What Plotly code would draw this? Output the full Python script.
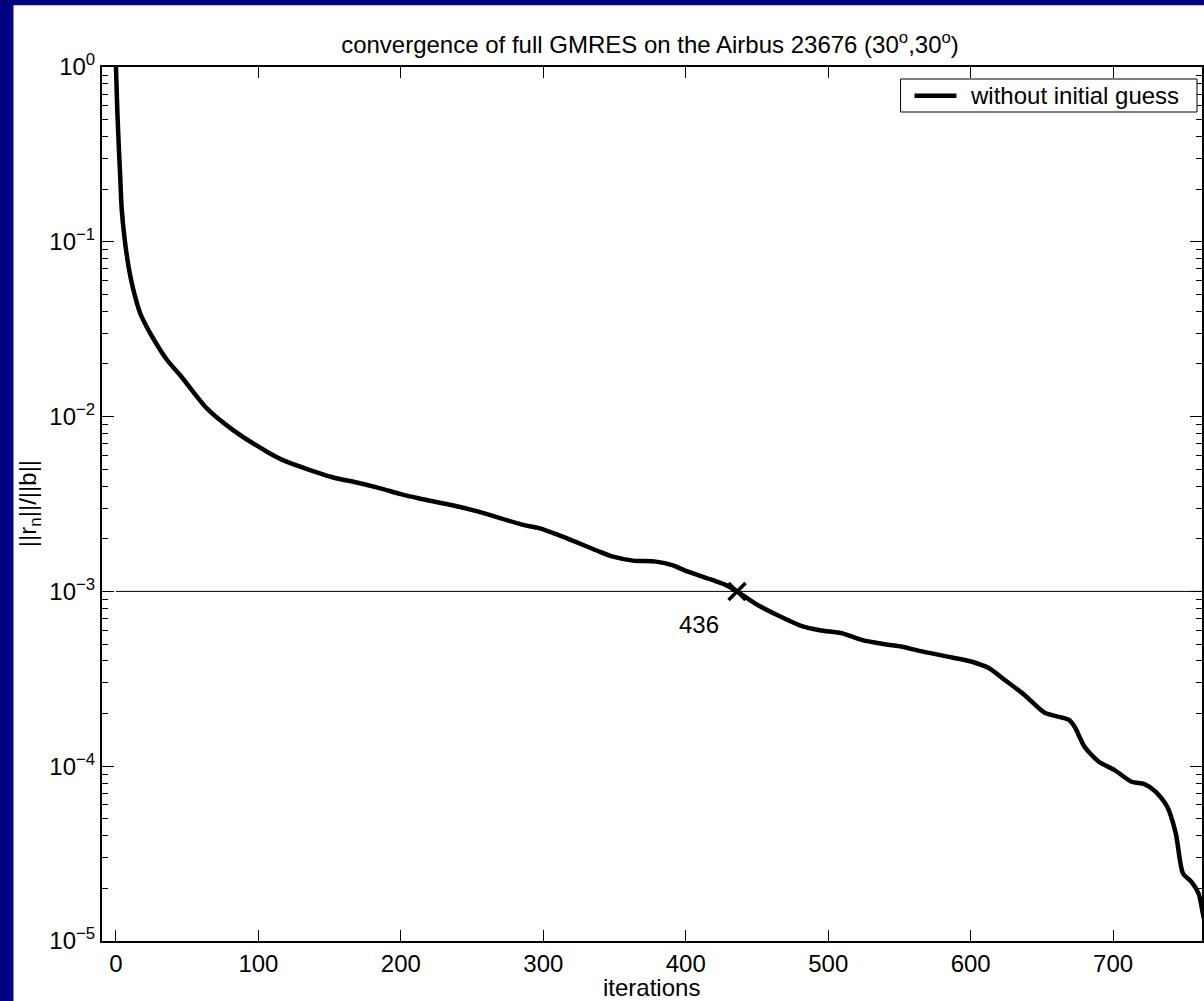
import math
import plotly.graph_objects as go

# ---------------- data ----------------
iterations = [0, 1, 2, 3, 4, 6, 9, 12, 17, 24, 36, 45, 64, 82, 106, 118, 152, 169,
              185, 200, 213, 237, 255, 286, 297, 314, 337, 349, 363, 379, 391, 400,
              419, 428, 436, 449, 466, 480, 494, 510, 524, 540, 552, 564, 587, 601,
              613, 624, 638, 652, 669, 673, 680, 690, 701, 713, 722, 730, 738, 744,
              749, 755, 760, 763, 766]
residual = [1.0, 0.55, 0.35, 0.235, 0.155, 0.105, 0.071, 0.054, 0.039, 0.030,
            0.021, 0.0173, 0.0111, 0.0084, 0.0063, 0.0056, 0.0045, 0.0042,
            0.0039, 0.0036, 0.0034, 0.0031, 0.00285, 0.0024, 0.0023, 0.00205,
            0.00172, 0.00158, 0.0015, 0.00148, 0.00141, 0.00131, 0.00116, 0.00109,
            0.001, 0.00085, 0.00072, 0.00064, 0.0006, 0.000575, 0.000526, 0.000498,
            0.000482, 0.000457, 0.000419, 0.000396, 0.000363, 0.000311, 0.000255,
            0.000202, 0.000184, 0.000168, 0.000129, 0.000106, 0.000095, 0.0000815,
            0.000079, 0.0000714, 0.0000586, 0.0000413, 0.0000244, 0.0000218,
            0.0000187, 0.0000144, 0.000011]
threshold = 1e-3
cross_iter = 436
x_ticks = [0, 100, 200, 300, 400, 500, 600, 700]
y_ticks = [1e-5, 1e-4, 1e-3, 1e-2, 1e-1, 1e0]
y_ticktext = ["10<sup>\u22125</sup>", "10<sup>\u22124</sup>", "10<sup>\u22123</sup>",
              "10<sup>\u22122</sup>", "10<sup>\u22121</sup>", "10<sup>0</sup>"]
x_range = [-9.8, 762.4]
series_name = "without initial guess"
title_text = "convergence of full GMRES on the Airbus 23676 (30<sup>o</sup>,30<sup>o</sup>)"

# ---------------- layout geometry ----------------
W, H = 1204, 1001
L, R, T, B = 102, 0, 67, 60
FONT = "Liberation Sans, Arial, Helvetica, sans-serif"
NAVY = "#000080"


def px(xp):
    return (xp - L) / (W - L - R)


def py(yp):
    return (H - B - yp) / (H - T - B)


fig = go.Figure()

fig.add_trace(go.Scatter(
    x=iterations, y=residual, mode="lines", name=series_name,
    line=dict(color="black", width=4.5, shape="spline", smoothing=0.7),
    showlegend=False,
))

fig.add_shape(type="line", xref="x", yref="y", x0=0, x1=x_range[1],
              y0=threshold, y1=threshold, line=dict(color="black", width=1))

fig.add_trace(go.Scatter(
    x=[cross_iter], y=[threshold], mode="markers", showlegend=False,
    marker=dict(symbol="x-thin", size=17, line=dict(color="black", width=3.5)),
))

fig.add_annotation(x=cross_iter, y=math.log10(threshold), xref="x", yref="y",
                   yanchor="middle", xanchor="center",
                   text=str(cross_iter), showarrow=False, xshift=-38, yshift=-33,
                   font=dict(size=24, color="black", family=FONT))

# white figure area on navy slide background
fig.add_shape(type="rect", xref="paper", yref="paper", layer="below",
              x0=px(13.3), x1=px(W + 5), y0=py(H + 5), y1=py(5.3),
              line=dict(width=0), fillcolor="white")

# legend box (drawn by hand to match the original's proportions)
fig.add_shape(type="rect", xref="paper", yref="paper",
              x0=px(902), x1=px(1199), y0=py(112), y1=py(79),
              line=dict(color="black", width=1), fillcolor="white")
fig.add_shape(type="line", xref="paper", yref="paper",
              x0=px(916), x1=px(958), y0=py(95.7), y1=py(95.7),
              line=dict(color="black", width=4.5))
fig.add_annotation(x=px(970), y=py(95.7), xref="paper", yref="paper",
                   text=series_name, showarrow=False, xanchor="left", yanchor="middle",
                   font=dict(size=24, color="black", family=FONT))

# axis titles
fig.add_annotation(x=px(652), y=py(987), xref="paper", yref="paper",
                   text="iterations", showarrow=False, xanchor="center", yanchor="middle",
                   font=dict(size=24, color="black", family=FONT))
fig.add_annotation(x=px(29), y=0.5, xref="paper", yref="paper", textangle=-90,
                   text="||r<sub>n</sub>||/||b||", showarrow=False,
                   xanchor="center", yanchor="middle",
                   font=dict(size=24, color="black", family=FONT))

fig.update_layout(
    width=W, height=H,
    margin=dict(l=L, r=R, t=T, b=B, pad=0),
    paper_bgcolor=NAVY, plot_bgcolor="white",
    font=dict(family=FONT, size=24, color="black"),
    showlegend=False,
    title=dict(text=title_text, x=px(651), xref="paper", xanchor="center",
               y=1 - 45 / H, yref="container", yanchor="middle",
               font=dict(size=24, color="black", family=FONT)),
    xaxis=dict(range=x_range, tickmode="array", tickvals=x_ticks,
               ticks="inside", ticklen=11, tickwidth=1, tickcolor="black",
               showline=True, linewidth=2, linecolor="black", mirror="ticks",
               showgrid=False, zeroline=False,
               tickfont=dict(size=24, color="black", family=FONT)),
    yaxis=dict(type="log", range=[-5, 0], tickmode="array", tickvals=y_ticks,
               ticktext=y_ticktext,
               ticks="inside", ticklen=12, tickwidth=1, tickcolor="black",
               minor=dict(ticks="inside", ticklen=6, tickwidth=1, tickcolor="black",
                          dtick="D1", showgrid=False),
               showline=True, linewidth=2, linecolor="black", mirror="ticks",
               showgrid=False, zeroline=False,
               tickfont=dict(size=24, color="black", family=FONT)),
)

fig.write_html(
    "out.html",
    config={"displayModeBar": False},
    post_script="document.body.style.margin='0';document.body.style.overflow='hidden';"
                "document.body.style.background='" + NAVY + "';",
)
